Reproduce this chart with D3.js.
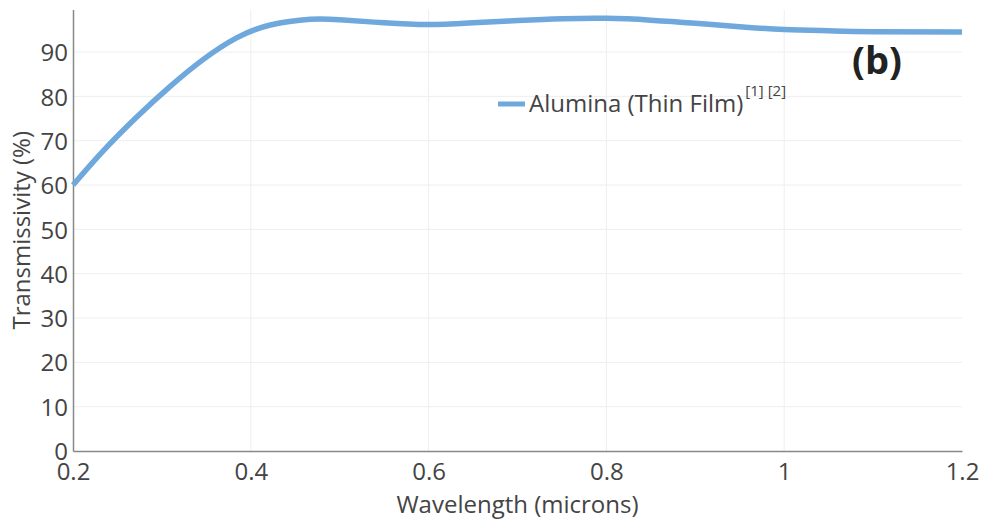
<!DOCTYPE html>
<html>
<head>
<meta charset="utf-8">
<script src="https://cdnjs.cloudflare.com/ajax/libs/d3/7.8.5/d3.min.js"></script>
<style>
body{margin:0;background:#fff;}
text{font-family:"Open Sans",sans-serif;}
</style>
</head>
<body>
<div id="container"></div>
<script>
let w=982;
let h=519;

// values
let wavelength=[0.2,0.234,0.272,0.309,0.347,0.384,0.422,0.467,0.5,0.55,0.6,0.65,0.7,0.75,0.8,0.85,0.9,0.95,1.0,1.05,1.1,1.2];
let transmissivity=[60,67.7,75.4,82.2,88.4,93.2,96.1,97.4,97.3,96.6,96.2,96.6,97.1,97.5,97.6,97.2,96.5,95.7,95.1,94.8,94.6,94.5];
let xTicks=[0.2,0.4,0.6,0.8,1,1.2];
let yTicks=[0,10,20,30,40,50,60,70,80,90];
let seriesName="Alumina (Thin Film)";
let refs="[1] [2]";

let padL=73,padR=962,padT=9.5,padB=451;
let lineColor="#6fa8dc";

let x=d3.scaleLinear().domain([0.2,1.2]).range([padL,padR]);
let y=d3.scaleLinear().domain([0,99.6]).range([padB,padT]);

let viz=d3.select("#container").append("svg")
  .attr("width",w).attr("height",h);

// grid
viz.append("g").selectAll("line").data(yTicks.slice(1)).enter()
  .append("line")
  .attr("x1",padL).attr("x2",padR)
  .attr("y1",d=>y(d)).attr("y2",d=>y(d))
  .attr("stroke","#eee").attr("stroke-width",1);
viz.append("g").selectAll("line").data(xTicks.slice(1,-1)).enter()
  .append("line")
  .attr("x1",d=>x(d)).attr("x2",d=>x(d))
  .attr("y1",padT).attr("y2",padB)
  .attr("stroke","#eee").attr("stroke-width",1);

// axes
let xAxis=viz.append("g").attr("transform","translate(0,"+padB+")")
  .call(d3.axisBottom(x).tickValues(xTicks).tickSize(0).tickPadding(12).tickFormat(d3.format("")));
let yAxis=viz.append("g").attr("transform","translate("+padL+",0)")
  .call(d3.axisLeft(y).tickValues(yTicks).tickSize(0).tickPadding(5));
[xAxis,yAxis].forEach(function(a){
  a.select(".domain").attr("stroke","#888").attr("stroke-width",1.5);
  a.selectAll("text").attr("font-family","Open Sans").attr("font-size",24).attr("fill","#444");
});
yAxis.selectAll("text").attr("dy","0.36em");
xAxis.selectAll("text").attr("dy","0.7em");

// axis titles
viz.append("text").text("Wavelength (microns)")
  .attr("x",(padL+padR)/2).attr("y",513)
  .attr("text-anchor","middle").attr("font-size",24).attr("fill","#444");
viz.append("text").text("Transmissivity (%)")
  .attr("transform","translate(30,"+((padT+padB)/2)+") rotate(-90)")
  .attr("text-anchor","middle").attr("font-size",24).attr("fill","#444");

// the curve
let line=d3.line()
  .x((d,i)=>x(wavelength[i]))
  .y(d=>y(d))
  .curve(d3.curveNatural);
viz.append("path")
  .datum(transmissivity)
  .attr("d",line)
  .attr("fill","none")
  .attr("stroke",lineColor)
  .attr("stroke-width",5.5)
  .attr("stroke-linecap","butt");

// legend
let legend=viz.append("g").attr("transform","translate(498,104)");
legend.append("line").attr("x1",0).attr("x2",27).attr("y1",0).attr("y2",0)
  .attr("stroke",lineColor).attr("stroke-width",5);
let lt=legend.append("text").attr("x",31).attr("y",8)
  .attr("font-size",24).attr("fill","#444");
lt.append("tspan").text(seriesName);
lt.append("tspan").text(refs).attr("font-size",15).attr("dy",-16).attr("dx",2);

// panel label
viz.append("text").text("(b)")
  .attr("x",877).attr("y",74)
  .attr("text-anchor","middle")
  .attr("font-size",38).attr("font-weight","bold").attr("fill","#222");
</script>
</body>
</html>
